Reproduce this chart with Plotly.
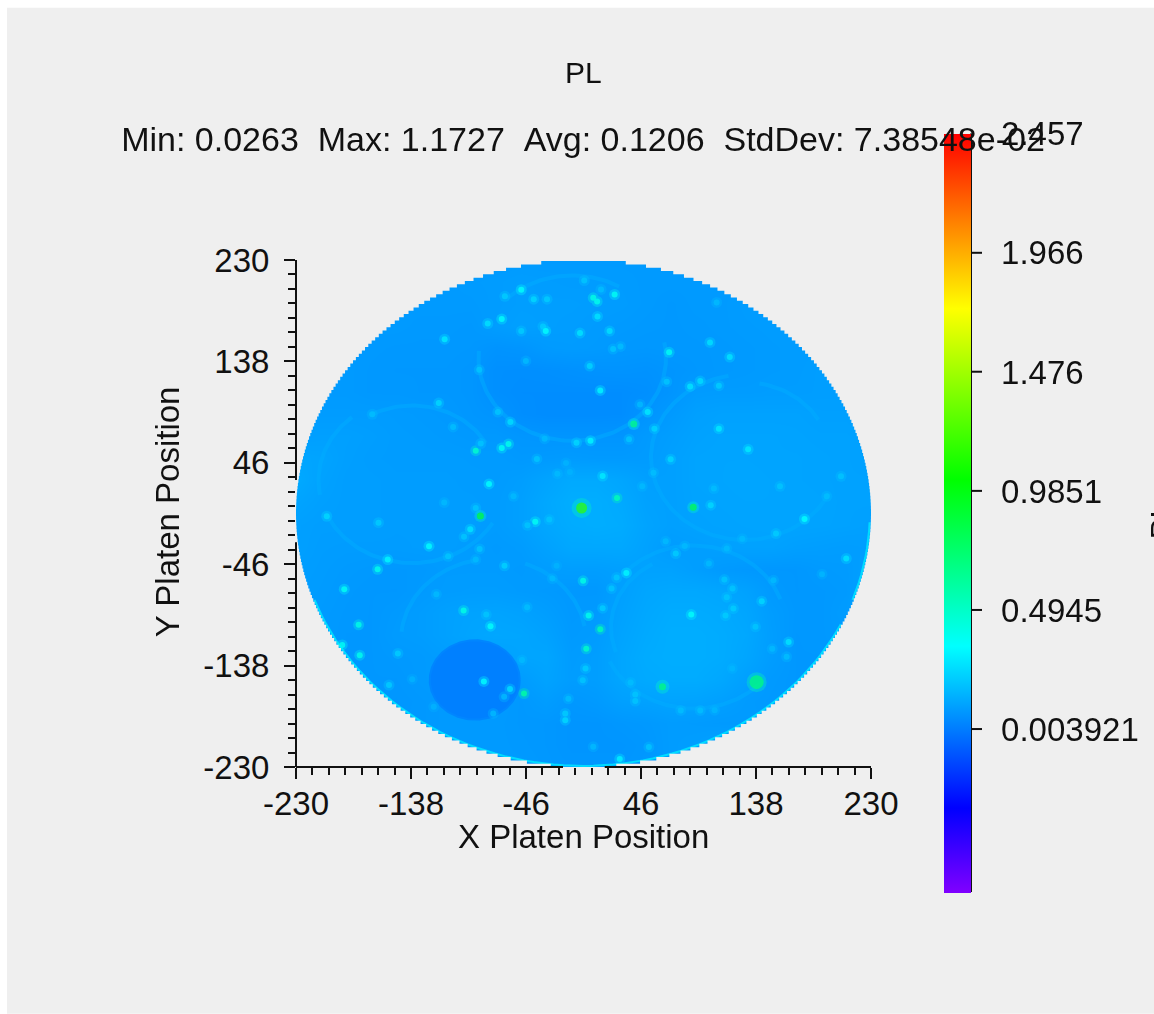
import numpy as np
import plotly.graph_objects as go

# ---------- data ----------
grid_x = [-230,-210,-190,-170,-150,-130,-110,-90,-70,-50,-30,-10,10,30,50,70,90,110,130,150,170,190,210,230]
grid_y = [230,210,190,170,150,130,110,90,70,50,30,10,-10,-30,-50,-70,-90,-110,-130,-150,-170,-190,-210,-230]
grid_z = [
[.085,.085,.085,.085,.085,.085,.085,.085,.085,.085,.085,.085,.085,.085,.085,.085,.085,.085,.085,.085,.085,.085,.085,.085],
[.085,.085,.085,.085,.085,.085,.085,.088,.090,.095,.092,.090,.090,.088,.085,.085,.085,.085,.085,.085,.085,.085,.085,.085],
[.085,.085,.085,.085,.085,.085,.085,.085,.090,.095,.095,.095,.092,.090,.085,.080,.085,.085,.090,.090,.088,.085,.085,.085],
[.085,.085,.085,.085,.085,.082,.082,.080,.092,.100,.095,.092,.088,.085,.082,.080,.082,.085,.088,.090,.090,.085,.085,.085],
[.085,.085,.085,.082,.080,.080,.080,.078,.068,.072,.085,.088,.085,.080,.078,.080,.080,.082,.085,.088,.090,.090,.085,.085],
[.085,.085,.085,.080,.078,.078,.078,.074,.058,.056,.058,.062,.066,.068,.065,.072,.078,.082,.085,.088,.090,.095,.090,.085],
[.090,.085,.085,.080,.080,.078,.078,.074,.058,.052,.052,.052,.052,.052,.058,.072,.088,.090,.090,.092,.092,.095,.095,.090],
[.090,.090,.090,.090,.088,.085,.082,.076,.070,.055,.050,.050,.050,.052,.070,.085,.100,.105,.105,.105,.105,.100,.100,.095],
[.095,.100,.100,.095,.090,.088,.085,.082,.082,.075,.072,.072,.072,.072,.085,.095,.105,.110,.110,.110,.108,.105,.105,.100],
[.115,.110,.098,.092,.090,.090,.090,.088,.088,.082,.085,.088,.085,.085,.088,.100,.110,.112,.112,.110,.110,.108,.105,.100],
[.125,.105,.095,.095,.092,.092,.092,.090,.088,.095,.110,.125,.125,.115,.100,.100,.110,.112,.115,.112,.110,.108,.105,.105],
[.110,.100,.095,.095,.092,.092,.092,.092,.090,.100,.120,.135,.135,.125,.105,.100,.108,.110,.112,.112,.112,.110,.105,.105],
[.100,.095,.095,.095,.092,.092,.092,.092,.090,.100,.118,.130,.135,.130,.110,.100,.105,.108,.110,.112,.110,.108,.105,.100],
[.100,.092,.090,.090,.090,.092,.092,.090,.085,.090,.105,.120,.120,.120,.105,.090,.095,.100,.105,.105,.098,.095,.092,.095],
[.095,.090,.085,.082,.080,.082,.088,.088,.088,.085,.092,.095,.095,.100,.105,.105,.095,.085,.080,.078,.078,.085,.088,.100],
[.092,.088,.082,.078,.078,.085,.090,.092,.092,.088,.085,.080,.080,.100,.115,.120,.120,.115,.105,.085,.078,.080,.085,.110],
[.090,.085,.080,.078,.085,.092,.102,.108,.110,.105,.095,.082,.085,.105,.120,.130,.130,.125,.115,.092,.080,.080,.090,.110],
[.090,.085,.078,.078,.088,.092,.102,.112,.118,.115,.105,.085,.090,.110,.125,.135,.135,.130,.120,.095,.078,.080,.085,.100],
[.085,.082,.078,.078,.082,.085,.092,.095,.100,.112,.115,.090,.095,.115,.130,.135,.135,.130,.115,.092,.078,.078,.085,.095],
[.085,.080,.078,.078,.078,.085,.090,.090,.095,.090,.108,.092,.095,.115,.125,.130,.130,.120,.100,.085,.078,.078,.085,.095],
[.085,.080,.078,.078,.075,.080,.085,.085,.088,.080,.092,.078,.085,.100,.105,.110,.108,.100,.088,.082,.080,.082,.085,.095],
[.090,.085,.080,.078,.078,.080,.085,.085,.085,.080,.078,.072,.072,.078,.082,.090,.088,.085,.085,.090,.095,.095,.095,.100],
[.095,.090,.085,.085,.085,.082,.085,.085,.085,.082,.078,.072,.072,.072,.078,.090,.095,.105,.100,.095,.095,.095,.100,.100],
[.100,.095,.090,.090,.090,.090,.090,.085,.085,.085,.080,.075,.075,.075,.080,.090,.095,.100,.100,.095,.095,.095,.100,.100],
]

spot_x = [-49.8,-62.9,-39.8,-29.2,.6,24.9,7.8,10.9,14,11.2,-65.4,-76.6,-49.8,-32.4,-30.2,-2.8,20.9,-111.1,101.2,68.5,23.7,29.6,117,-46.1,5,-83.4,13.4,85.3,93.4,108.3,66.6,106.5,-115.8,51.4,45.2,-58.5,-68.5,56.7,108.3,-104.3,-169,5.6,-5.6,36.4,-31.1,-60,-65.4,-86.2,-82.2,131.7,69.7,-37.3,-14,-20.9,-10.9,15.3,-75.6,56,206,47,-56,26.8,101.8,176.8,-86.2,-111.4,-205.4,-164,-38.6,-27.4,-44.8,157.2,194.6,104.3,
          -123.6,-156.6,-164.7,-191.4,-179.9,-193,-179,-148.5,-155.6,-95.9,-77.8,-74.4,-45.1,-117.7,-63.2,-108.3,-95.6,-90.6,-83.1,-86.2,-.3,-24.9,-21.5,34.3,26.5,22.4,15.3,4.1,13.4,2.2,1.6,-.6,-12.1,-14.6,-14.6,-47.6,-79.7,-58.8,-63.5,-72.2,-49.2,37.7,41.4,41.4,77.8,93.4,104.9,86.2,113.6,119.9,114.6,119.2,112.7,142.6,137.6,164.1,151,162.5,152,73.8,81,65.7,210.2,190.8,154,127,7.8,52.3,29,119,100.3,114.6,-119.8,-137]
spot_y = [203,197,194.5,194.5,211.4,198.7,195.7,192.4,203.3,178.8,176.4,172.4,165.5,169.7,165.5,163.7,165.5,158.2,155.2,146.2,149.2,151.6,141.9,138.3,133.8,130.4,111.7,115.3,120.2,116,119.6,191.5,100.2,92,99,83,92,77,77,78.5,90,66,64.3,67.3,67.9,63,59.4,57,63.4,58.2,49.2,49.5,45.8,36.1,37.7,34,26.8,37,33.7,24.7,15.6,14.1,7.5,-5,5,9.9,-2.5,-8.3,-7.4,-5.5,-10.7,24.7,15.6,22.6,
          -29.7,-41.8,-50.6,-68.7,-101,-119.2,-128.5,-127,-155.7,-88,-91.7,-102.2,-85,-73.2,-47.5,-38.8,-21.2,-14.3,-32.1,-41.8,-61.1,-59,-47.5,-53.9,-58.1,-68.1,-85.9,-92.6,-105,-122.8,-140.6,-151.2,-168.1,-181.4,-187.5,-163.3,-152.4,-159.3,-166.3,-181.4,-133,-153.3,-164.2,-170.2,-178.7,-178.7,-178.4,-91.7,-92.6,-86.2,-75.9,-68.1,-59.9,-79.6,-102.8,-116.7,-122.8,-130,-60.5,-36.4,-29.4,-25.2,-40.9,-55.1,-18.2,-22.8,-211.6,-211.9,-222.8,-140.6,-45.4,-31.8,-175.4,-150.3]
spot_v = [.36,.22,.25,.22,.2,.38,.42,.4,.18,.28,.36,.27,.22,.22,.35,.28,.27,.3,.27,.38,.2,.18,.28,.17,.24,.2,.33,.28,.26,.22,.2,.17,.25,.3,.17,.26,.2,.24,.3,.18,.18,.33,.25,.2,.17,.4,.38,.48,.2,.3,.25,.2,.15,.17,.15,.3,.35,.18,.2,.17,.17,.55,.25,.35,.2,.17,.25,.22,.38,.2,.2,.2,.18,.18,
          .35,.33,.4,.38,.42,.38,.4,.22,.22,.42,.2,.36,.18,.17,.23,.2,.2,.28,.2,.17,.42,.17,.15,.33,.2,.2,.22,.4,.55,.5,.22,.2,.18,.22,.25,.6,.35,.27,.17,.17,.17,.18,.2,.2,.18,.18,.16,.36,.22,.22,.2,.2,.2,.25,.2,.28,.17,.18,.17,.22,.17,.17,.28,.16,.22,.17,.17,.2,.32,.16,.17,.17,.15,.15]

peak_x = [-1.5,138.5,63.2,87.8,-82.5,40.2]
peak_y = [5,-153,-157.2,5.6,-2.2,81.2]
peak_v = [1.17,.72,.72,.85,.9,.7]

# pockets: centre, radius, visible arc in degrees
ring_cx = [-9,-9,129,129,129,-137,-137,-137,-72,-72,88,88,88]
ring_cy = [141,141,51,51,51,30,30,30,-115,-115,-103,-103,-103]
ring_r = [75,75,75,75,68,75,75,68,74,74,74,74,66]
ring_a0 = [175,60,100,200,30,205,130,30,10,100,205,20,120]
ring_a1 = [372,135,205,335,80,330,190,120,70,175,320,140,200]

disc_cx = -87
disc_cy = -151
disc_r = 36

rim_a0 = [200,340]
rim_a1 = [335,358]

major_ticks = [-230,-138,-46,46,138,230]
major_labels = ["-230","-138","-46","46","138","230"]
bar_ticks = [2.457,1.966,1.476,.9851,.4945,.003921]
bar_labels = ["2.457","1.966","1.476","0.9851","0.4945","0.003921"]

title_text = "PL"
x_title = "X Platen Position"
y_title = "Y Platen Position"
stats_text = "Min: 0.0263\u00a0\u00a0Max: 1.1727\u00a0\u00a0Avg: 0.1206\u00a0\u00a0StdDev: 7.38548e-02"

# ---------- styling ----------
FONT = "Liberation Sans"
INK = "#111111"
BG = "#efefef"
WAFER_R = 230
CMIN, CMAX = -.667, 2.457
W, H = 1154, 1014
L, R, T, B = 296, 871, 259.5, 767
PLOT_W, PLOT_H = R - L, B - T
BAR_LEN = 759
BAR_TOP = (B - 133) / PLOT_H
BAR_EDGE = (971 - L) / PLOT_W
colorscale = [[0, "#8000ff"], [.112, "#0000ff"], [.325, "#00ffff"],
              [.545, "#00ff00"], [.77, "#ffff00"], [1, "#ff0000"]]
minor_ticks = np.concatenate([np.linspace(a, b, 8)[1:-1] for a, b in zip(major_ticks[:-1], major_ticks[1:])]).tolist()


def arc(cx, cy, r, a0, a1):
    t = np.radians(np.arange(a0, a1 + 1, 2))
    return (cx + r * np.cos(t)).tolist(), (cy + r * np.sin(t)).tolist()


def joined(cxs, cys, rs, a0s, a1s):
    xs, ys = [], []
    for cx, cy, r, a0, a1 in zip(cxs, cys, rs, a0s, a1s):
        x, y = arc(cx, cy, r, a0, a1)
        xs += x + [None]
        ys += y + [None]
    return xs, ys


fig = go.Figure()
fig.add_trace(go.Heatmap(x=grid_x, y=grid_y, z=grid_z, coloraxis="coloraxis", zsmooth="best", hoverinfo="skip"))

rx, ry = joined(ring_cx, ring_cy, ring_r, ring_a0, ring_a1)
fig.add_trace(go.Scatter(x=rx, y=ry, mode="lines", line=dict(color="#00adff", width=4), opacity=.5, hoverinfo="skip"))

dx, dy = arc(disc_cx, disc_cy, disc_r, 0, 360)
fig.add_trace(go.Scatter(x=dx, y=dy, mode="lines", fill="toself", fillcolor="#0080ff",
                         line=dict(color="#0086ff", width=2), hoverinfo="skip"))

ex, ey = joined([0, 0], [0, 0], [WAFER_R - 1, WAFER_R - 1], rim_a0, rim_a1)
fig.add_trace(go.Scatter(x=ex, y=ey, mode="lines", line=dict(color="#00dcff", width=2), hoverinfo="skip"))

fig.add_trace(go.Scatter(x=spot_x, y=spot_y, mode="markers", opacity=.3, hoverinfo="skip",
                         marker=dict(size=11, color=spot_v, coloraxis="coloraxis", line=dict(width=0))))
fig.add_trace(go.Scatter(x=spot_x, y=spot_y, mode="markers", opacity=.8, hoverinfo="skip",
                         marker=dict(size=6, color=spot_v, coloraxis="coloraxis", line=dict(width=0))))
fig.add_trace(go.Scatter(x=peak_x, y=peak_y, mode="markers", opacity=.45, hoverinfo="skip",
                         marker=dict(size=[20, 20, 14, 12, 12, 12], color=[.55, .55, .5, .5, .5, .45],
                                     coloraxis="coloraxis", line=dict(width=0))))
fig.add_trace(go.Scatter(x=peak_x, y=peak_y, mode="markers", hoverinfo="skip",
                         marker=dict(size=[11, 14, 7, 7, 7, 7], color=peak_v, coloraxis="coloraxis", line=dict(width=0))))

# grey cover outside the stepped wafer edge
STEP = 3
edges = np.arange(-WAFER_R, WAFER_R, STEP)
half = np.sqrt(np.maximum(WAFER_R ** 2 - (edges + STEP / 2) ** 2, 0))
pts = []
for e, h in zip(edges, half):
    pts += [(h, e), (h, e + STEP)]
for e, h in zip(edges[::-1], half[::-1]):
    pts += [(-h, e + STEP), (-h, e)]
hole = "M" + "L".join(f"{a:.2f},{b:.2f}" for a, b in pts) + "Z"
cover = f"M-230,-230L230,-230L230,230L-230,230Z{hole}"

line = dict(color=INK, width=2)
shapes = [
    dict(type="rect", xref="paper", yref="paper", x0=(7 - L) / PLOT_W, x1=(W - L) / PLOT_W,
         y0=(B - H) / PLOT_H, y1=(B - 7) / PLOT_H, fillcolor=BG, line=dict(width=0), layer="below"),
    dict(type="path", path=cover, xref="x", yref="y", fillcolor=BG, line=dict(width=0), layer="above", fillrule="evenodd"),
    dict(type="line", xref="paper", yref="y", x0=0, x1=0, y0=230, y1=30.5, line=line),
    dict(type="line", xref="paper", yref="y", x0=0, x1=0, y0=-26, y1=-230, line=line),
    dict(type="line", xref="x", yref="paper", x0=-230, x1=-16.4, y0=0, y1=0, line=line),
    dict(type="line", xref="x", yref="paper", x0=17, x1=230, y0=0, y1=0, line=line),
    dict(type="line", xref="paper", yref="paper", x0=BAR_EDGE, x1=BAR_EDGE, y0=BAR_TOP - BAR_LEN / PLOT_H, y1=BAR_TOP, line=line),
]
for v in bar_ticks[1:]:
    yp = BAR_TOP - (CMAX - v) / (CMAX - CMIN) * BAR_LEN / PLOT_H
    shapes.append(dict(type="line", xref="paper", yref="paper", x0=BAR_EDGE, x1=BAR_EDGE + 11 / PLOT_W, y0=yp, y1=yp, line=line))

axis = dict(range=[-230, 230], tickmode="array", tickvals=major_ticks, ticktext=major_labels, ticks="outside",
            ticklen=11, tickwidth=2, tickcolor=INK, showline=False, showgrid=False, zeroline=False, layer="below traces",
            tickfont=dict(family=FONT, size=33, color=INK),
            minor=dict(tickmode="array", tickvals=minor_ticks, ticks="outside", ticklen=7, tickwidth=2,
                       tickcolor=INK, showgrid=False))


def note(text, px, py, size, angle=0, anchor="center"):
    return dict(text=text, xref="paper", yref="paper", x=(px - L) / PLOT_W, y=(B - py) / PLOT_H, xanchor=anchor,
                yanchor="middle", textangle=angle, showarrow=False, font=dict(family=FONT, size=size, color=INK))


fig.update_layout(
    width=W, height=H, autosize=False,
    margin=dict(l=L, r=W - R, t=T, b=H - B),
    paper_bgcolor="#ffffff", plot_bgcolor=BG, showlegend=False,
    font=dict(family=FONT, color=INK, size=33),
    title=dict(text=stats_text, x=583 / W, xanchor="center", y=1 - 139 / H, yanchor="middle",
               font=dict(family=FONT, size=34, color=INK)),
    xaxis={**axis, "ticklabelstandoff": -4},
    yaxis={**axis, "ticklabelstandoff": 8},
    coloraxis=dict(
        cmin=CMIN, cmax=CMAX, colorscale=colorscale,
        colorbar=dict(x=(944 - L) / PLOT_W, xref="paper", xanchor="left", xpad=0, y=BAR_TOP, yref="paper", yanchor="top", ypad=0,
                      thickness=27, thicknessmode="pixels", len=BAR_LEN, lenmode="pixels", outlinewidth=0,
                      tickmode="array", tickvals=bar_ticks, ticktext=bar_labels, ticks="outside", ticklen=24,
                      tickwidth=2, tickcolor="rgba(0,0,0,0)", tickfont=dict(family=FONT, size=33, color=INK)),
    ),
    shapes=shapes,
    annotations=[
        note(title_text, 583, 72, 30),
        note(x_title, 583, 837, 33),
        note(y_title, 167, 512, 33, angle=-90),
        note(title_text, 1162, 520, 31, angle=-90),
    ],
)

fig.write_html("out.html", default_width=f"{W}px", default_height=f"{H}px",
               config={"displayModeBar": False},
               post_script="document.body.style.margin='0';")
